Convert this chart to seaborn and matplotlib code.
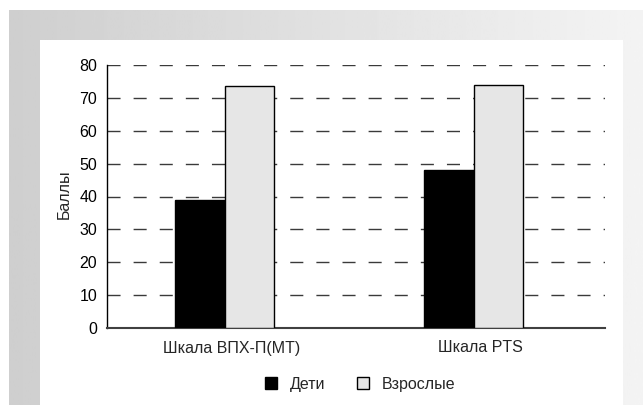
import numpy as np
import pandas as pd
import matplotlib
matplotlib.use("Agg")
import matplotlib.pyplot as plt
import matplotlib.transforms as mtransforms
import seaborn as sns
from matplotlib.patches import Rectangle

categories = ["Шкала ВПХ-П(МТ)", "Шкала PTS"]
groups = ["Дети", "Взрослые"]
children = [39.0, 48.0]
adults = [73.5, 74.0]
yticks = [0, 10, 20, 30, 40, 50, 60, 70, 80]

df = pd.DataFrame({
    "cat": categories * 2,
    "grp": [groups[0]] * 2 + [groups[1]] * 2,
    "val": children + adults,
})

sns.set_style("white")
plt.rcParams["font.family"] = ["Liberation Sans", "DejaVu Sans"]

W, H = 643, 405
fig = plt.figure(figsize=(W / 100, H / 100), dpi=100)
fig.patch.set_facecolor("white")

# gradient background
bg = fig.add_axes([9 / W, 0, 1 - 9 / W, (H - 10) / H], zorder=-10)
grad = np.linspace(0.81, 0.955, 256).reshape(1, -1)
bg.imshow(grad, aspect="auto", cmap="gray", vmin=0, vmax=1, extent=[0, 1, 0, 1])
bg.add_patch(Rectangle(((40 - 9) / (W - 9), 0), (623 - 40) / (W - 9), (H - 40) / (H - 10),
                       facecolor="white", edgecolor="none", transform=bg.transAxes))
bg.set_xlim(0, 1)
bg.set_ylim(0, 1)
bg.axis("off")

x0, x1 = 107, 605
y_top, y_bot = 65, 328
ax = fig.add_axes([x0 / W, (H - y_bot) / H, (x1 - x0) / W, (y_bot - y_top) / H])
ax.patch.set_alpha(0)

sns.barplot(data=df, x="cat", y="val", hue="grp", hue_order=groups,
            palette=["black", "#e6e6e6"], width=0.4, edgecolor="black",
            linewidth=1.0, ax=ax, legend=True, zorder=3)

lo, hi = -0.472, 1.528
ax.set_ylim(0, 80)
ax.set_xlim(lo, hi)
ax.set_yticks(yticks)
ax.set_yticklabels([str(v) for v in yticks])
ax.set_xlabel("")
ax.set_ylabel("Баллы", fontsize=11.5)
ax.yaxis.set_label_coords(-0.07, 0.51)

for y in yticks[1:]:
    ax.axhline(y, color="#3a3a3a", linewidth=1.0, linestyle=(0, (9.4, 9.4)), zorder=1)

for s in ["top", "right"]:
    ax.spines[s].set_visible(False)
ax.spines["left"].set_color("black")
ax.spines["left"].set_linewidth(1.0)
ax.spines["bottom"].set_color("#404040")
ax.spines["bottom"].set_linewidth(1.5)

ax.tick_params(axis="y", length=0, pad=7, labelsize=11.5, colors="black")
ax.tick_params(axis="x", which="major", length=0, pad=9, labelsize=11.5)
ax.set_xticks([lo, (lo + hi) / 2, hi], minor=True)
ax.tick_params(axis="x", which="minor", length=4, width=1.2, color="#404040", direction="out")

# centre category labels between the separator ticks
offset = mtransforms.ScaledTranslation(7 / 100, 0, fig.dpi_scale_trans)
for lab in ax.get_xticklabels():
    lab.set_transform(lab.get_transform() + offset)

handles, labels = ax.get_legend_handles_labels()
if ax.legend_:
    ax.legend_.remove()
fig.legend(handles, labels, loc="center", bbox_to_anchor=(360 / W, (H - 384) / H),
           ncol=2, frameon=False, fontsize=11.5, handlelength=0.75, handleheight=0.75,
           columnspacing=2.0, handletextpad=0.8)

fig.savefig("out.png", dpi=100)
